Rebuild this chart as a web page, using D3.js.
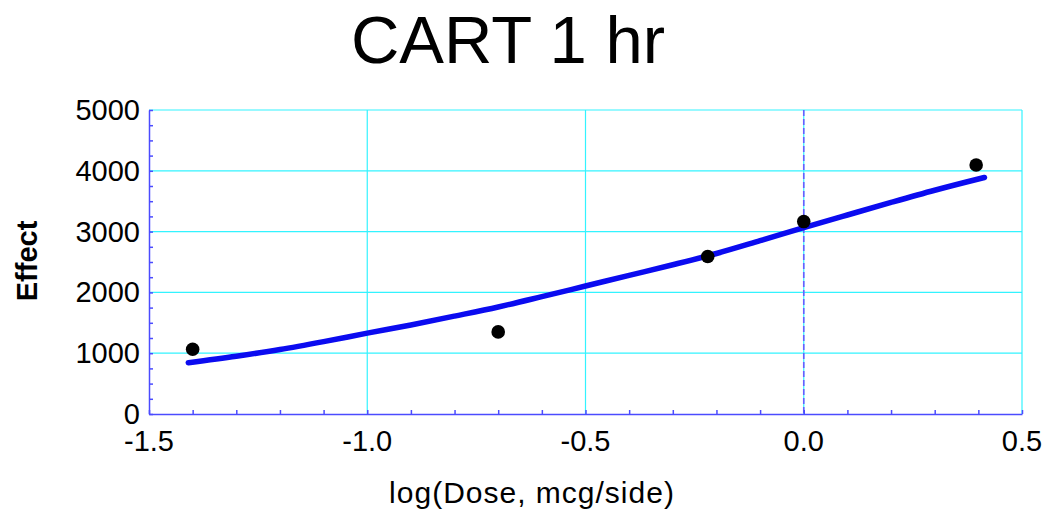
<!DOCTYPE html>
<html>
<head>
<meta charset="utf-8">
<script src="https://cdn.jsdelivr.net/npm/d3@7"></script>
<style>
  body { margin: 0; background: #fff; }
  text { font-family: "Liberation Sans", Arial, Helvetica, sans-serif; fill: #000; }
</style>
</head>
<body>
<svg id="chart" width="1052" height="512"></svg>
<script>
// observed points
var doseLog = [-1.40, -0.70, -0.22, 0.0, 0.395];
var effect  = [1065, 1350, 2590, 3165, 4095];

// fitted curve
var fitX = [-1.41, -1.3, -1.2, -1.1, -1.0, -0.9, -0.8, -0.7, -0.6, -0.5, -0.4, -0.3, -0.2, -0.1, 0.0, 0.1, 0.2, 0.3, 0.4, 0.414];
var fitY = [ 844,   950, 1060, 1190, 1330, 1465, 1610, 1760, 1930, 2105, 2280, 2455, 2640, 2850, 3064, 3273, 3480, 3680, 3865, 3890];

var xTicks = [-1.5, -1.0, -0.5, 0.0, 0.5];
var yTicks = [0, 1000, 2000, 3000, 4000, 5000];

var title = 'CART 1 hr';
var xTitle = 'log(Dose, mcg/side)';
var yTitle = 'Effect';

var pLeft = 149, pRight = 1022, pTop = 110, pBottom = 414;
var axisColor = '#4b4bff', gridColor = '#33f3ff';

var svg = d3.select('#chart');

var x = d3.scaleLinear().domain([-1.5, 0.5]).range([pLeft, pRight]);
var y = d3.scaleLinear().domain([0, 5000]).range([pBottom, pTop]);

// grid
var grid = svg.append('g');
grid.selectAll('.gx')
    .data(xTicks.slice(1))
    .enter().append('line')
        .attr('x1', function(d) { return x(d); })
        .attr('x2', function(d) { return x(d); })
        .attr('y1', pTop).attr('y2', pBottom)
        .attr('stroke', gridColor).attr('stroke-width', 1.2);
grid.selectAll('.gy')
    .data(yTicks.slice(1))
    .enter().append('line')
        .attr('x1', pLeft).attr('x2', pRight)
        .attr('y1', function(d) { return y(d); })
        .attr('y2', function(d) { return y(d); })
        .attr('stroke', gridColor).attr('stroke-width', 1.2);

// dashed reference at zero
svg.append('line')
    .attr('x1', x(0)).attr('x2', x(0))
    .attr('y1', pTop).attr('y2', pBottom)
    .attr('stroke', '#6a5cff').attr('stroke-width', 1.6)
    .attr('stroke-dasharray', '6,3');

// axes with inward minor ticks
var xAxis = d3.axisBottom(x)
    .tickValues(d3.range(-15, 6).map(function(i) { return i / 10; }))
    .tickSizeInner(-4).tickSizeOuter(0).tickFormat('');
var yAxis = d3.axisLeft(y)
    .tickValues(d3.range(0, 21).map(function(i) { return i * 250; }))
    .tickSizeInner(-4).tickSizeOuter(0).tickFormat('');

svg.append('g').attr('transform', 'translate(0,' + pBottom + ')').call(xAxis)
    .call(function(g) {
        g.selectAll('line, path').attr('stroke', axisColor).attr('stroke-width', 1.5);
    });
svg.append('g').attr('transform', 'translate(' + pLeft + ',0)').call(yAxis)
    .call(function(g) {
        g.selectAll('line, path').attr('stroke', axisColor).attr('stroke-width', 1.5);
    });

// tick labels
svg.selectAll('.xl')
    .data(xTicks)
    .enter().append('text')
        .attr('x', function(d) { return x(d); })
        .attr('y', 451)
        .attr('text-anchor', 'middle')
        .style('font-size', '29px')
        .text(function(d) { return d3.format('.1f')(d).replace('\u2212', '-'); });
svg.selectAll('.yl')
    .data(yTicks)
    .enter().append('text')
        .attr('x', 140)
        .attr('y', function(d) { return y(d) + 10; })
        .attr('text-anchor', 'end')
        .style('font-size', '29px')
        .text(function(d) { return d; });

// fitted line
var fit = fitX.map(function(v, i) { return [v, fitY[i]]; });
svg.append('path')
    .datum(fit)
    .attr('fill', 'none')
    .attr('stroke', '#0b0bf0')
    .attr('stroke-width', 5.5)
    .attr('stroke-linecap', 'round')
    .attr('d', d3.line()
        .x(function(d) { return x(d[0]); })
        .y(function(d) { return y(d[1]); })
        .curve(d3.curveMonotoneX));

// points
svg.selectAll('.pt')
    .data(doseLog)
    .enter().append('circle')
        .attr('cx', function(d) { return x(d); })
        .attr('cy', function(d, i) { return y(effect[i]); })
        .attr('r', 6.8)
        .attr('fill', '#000');

// titles
svg.append('text')
    .attr('x', 508).attr('y', 63)
    .attr('text-anchor', 'middle')
    .style('font-size', '67px')
    .text(title);
svg.append('text')
    .attr('x', 532).attr('y', 503)
    .attr('text-anchor', 'middle')
    .style('font-size', '30px')
    .style('letter-spacing', '1px')
    .text(xTitle);
svg.append('text')
    .attr('transform', 'translate(37,261) rotate(-90)')
    .attr('text-anchor', 'middle')
    .style('font-size', '29px')
    .style('font-weight', 'bold')
    .text(yTitle);
</script>
</body>
</html>
